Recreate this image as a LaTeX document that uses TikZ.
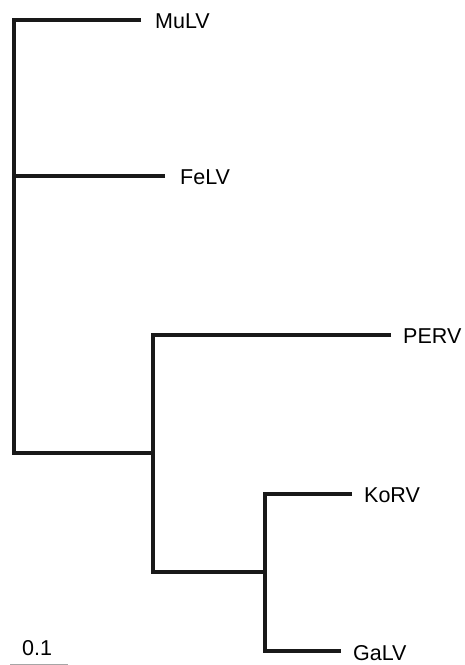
\documentclass[tikz,border=0pt]{standalone}
\usepackage{fontspec}
\setmainfont{Liberation Sans}
\begin{document}
\begin{tikzpicture}[x=1pt,y=-1pt,
  branch/.style={line width=3.6pt,line join=miter,black!90},
  taxon/.style={anchor=base west,inner sep=0pt,font=\fontsize{21.5}{24}\selectfont}]
\useasboundingbox (0,0) rectangle (465,665);
% leaf ends of branches
\coordinate (mu) at (141,20);
\coordinate (fe) at (165,176);
\coordinate (pe) at (391,335);
\coordinate (ko) at (352,494);
\coordinate (ga) at (341,651);
% internal nodes
\coordinate (r) at (14,453);
\coordinate (a) at (153,453);
\coordinate (b) at (153,572);
\coordinate (c) at (265,572);
\coordinate (g) at (265,651);
% labels
\node[taxon] (lmu) at (155,28) {MuLV};
\node[taxon] (lfe) at (180,184) {FeLV};
\node[taxon] (lpe) at (403,343) {PERV};
\node[taxon] (lko) at (364,502) {KoRV};
\node[taxon] (lga) at (353,660) {GaLV};
% branches
\draw[branch] (mu) -| (r) -- (a);
\draw[branch] (fe) -- (fe -| r);
\draw[branch] (pe) -| (b) -- (c);
\draw[branch] (ko) -| (g) -- (ga);
% scale bar
\coordinate (s1) at (10,664);
\coordinate (s2) at (68,664);
\draw[gray!70,line width=0.8pt] (s1) -- (s2);
\node[taxon] (sc) at (22,655) {0.1};
\end{tikzpicture}
\end{document}
